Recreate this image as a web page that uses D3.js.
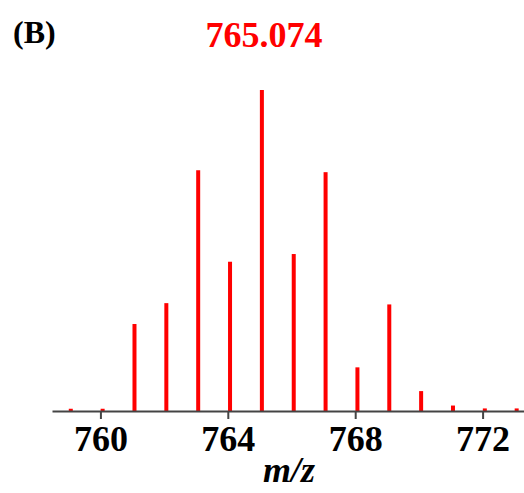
<!DOCTYPE html>
<html>
<head>
<meta charset="utf-8">
<script src="https://cdn.jsdelivr.net/npm/d3@7"></script>
<style>
  body { margin: 0; background: #fff; }
  svg { display: block; }
</style>
</head>
<body>
<div id="chart"></div>
<script>
// peak positions (m/z) and relative intensities (%)
var mzValues = [759.07, 760.07, 761.07, 762.07, 763.07, 764.07, 765.07,
                766.07, 767.07, 768.07, 769.07, 770.07, 771.07, 772.07, 773.07];
var intensities = [0.7, 0.7, 27.1, 33.6, 75.0, 46.5, 100, 48.9, 74.4,
                   13.6, 33.2, 6.2, 1.7, 0.8, 0.8];
var tickValues = [760, 764, 768, 772];
var peakLabel = "765.074";
var panelLabel = "(B)";

function init(){
    var w = 524;
    var h = 493;

    var xScale = d3.scaleLinear()
                    .domain([758.48, 773.3])
                    .range([52, 524]);

    var yScale = d3.scaleLinear()
                    .domain([0, 100])
                    .range([411, 90]);

    var svg = d3.select('#chart')
                .append('svg')
                .attr('width', w)
                .attr('height', h);

    // sticks
    svg.selectAll("rect.peak")
        .data(mzValues)
        .enter()
        .append("rect")
        .attr("class", "peak")
        .attr("x", function(d){ return xScale(d) - 2; })
        .attr("y", function(d, i){ return yScale(intensities[i]); })
        .attr("width", 4)
        .attr("height", function(d, i){ return yScale(0) - yScale(intensities[i]); })
        .attr("fill", "#ff0000");

    // x axis
    var xAxis = d3.axisBottom(xScale)
                    .tickValues(tickValues)
                    .tickSize(8)
                    .tickSizeOuter(0)
                    .tickFormat(d3.format("d"));

    var gx = svg.append("g")
        .attr("transform", "translate(0," + yScale(0) + ")")
        .call(xAxis);

    gx.select(".domain")
        .attr("stroke", "#444")
        .attr("stroke-width", 2);
    gx.selectAll(".tick line")
        .attr("stroke", "#444")
        .attr("stroke-width", 2);
    gx.selectAll(".tick text")
        .attr("y", 40)
        .attr("dy", 0)
        .attr("fill", "#000")
        .attr("font-family", "'Liberation Serif', 'Times New Roman', serif")
        .attr("font-weight", "bold")
        .attr("font-size", "36px");

    // axis title
    svg.append("text")
        .attr("x", 289)
        .attr("y", 482)
        .attr("text-anchor", "middle")
        .attr("font-family", "'Liberation Serif', 'Times New Roman', serif")
        .attr("font-weight", "bold")
        .attr("font-style", "italic")
        .attr("font-size", "36px")
        .attr("fill", "#000")
        .text("m/z");

    // peak label
    svg.append("text")
        .attr("x", 264)
        .attr("y", 47)
        .attr("text-anchor", "middle")
        .attr("font-family", "'Liberation Serif', 'Times New Roman', serif")
        .attr("font-weight", "bold")
        .attr("font-size", "36px")
        .attr("fill", "#ff0000")
        .text(peakLabel);

    // panel label
    svg.append("text")
        .attr("x", 13)
        .attr("y", 43)
        .attr("font-family", "'Liberation Serif', 'Times New Roman', serif")
        .attr("font-weight", "bold")
        .attr("font-size", "32px")
        .attr("fill", "#000")
        .text(panelLabel);
}

window.onload = init;
</script>
</body>
</html>
